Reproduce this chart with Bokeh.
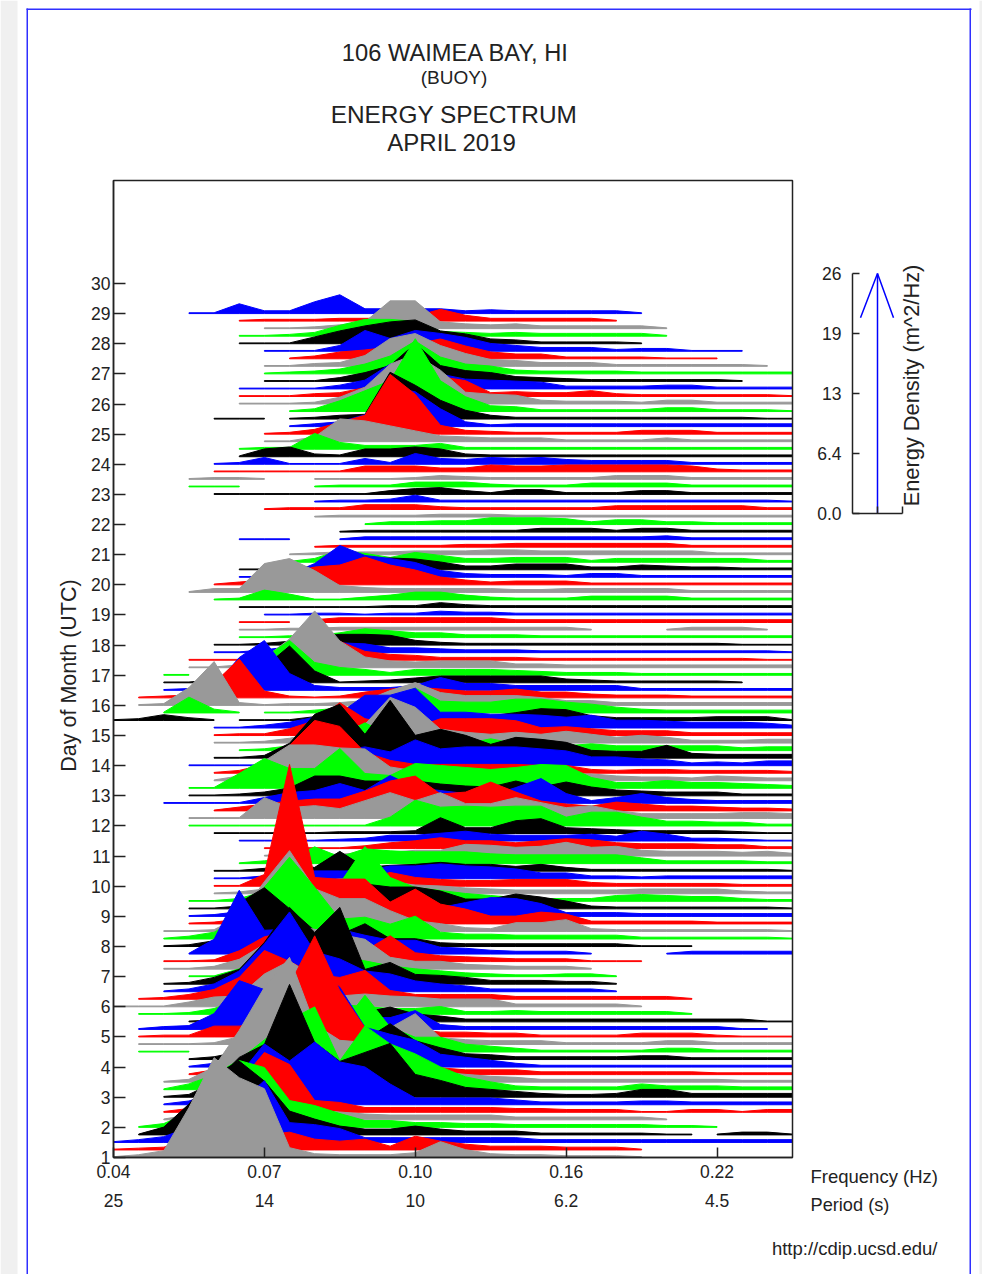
from bokeh.plotting import figure
from bokeh.core.properties import value
from bokeh.models import FixedTicker, LinearAxis, Range1d
from bokeh.embed import file_html
from bokeh.resources import INLINE
import math

_ = None  # no energy recorded in this frequency bin

# Waterfall spectra, one every 6 h from day 1 00:00; 28 frequency bins per spectrum.
# Readings are in divisions of the energy scale (240 divisions = 26 m^2/Hz).
k000=[1,3,7,50,100,80,69,10,4,3,3,3,5,16,8,4]+[3,3,2,2,2,1,_,_,_,_,_,_]
k001=[1,2,3,10,30,25,15,18,11,9,11,4,14,9,6,4]+[4,4,3,3,3,1,_,_,_,_,_,_]
k002=[1,3,6,15,30,40,62,20,18,14,5,5,5,5,5,5]+[5,3,3,3,3,3,3,3,3,3,3,3]
k003=[_,1,8,31,60,74,54,24,16,9,6,6,9,6,4,4]+[4,2,2,2,2,2,1,1,1,3,3,1]
k004=[_,1,4,15,40,67,60,27,22,14,7,7,5,5,4,4]+[3,3,3,3,3,3,2,2,1,_,_,_]
k005=[_,_,1,5,10,25,25,12,10,8,6,5,5,5,5,5]+[3,3,3,3,3,3,1,_,_,_,_,_]
k006=[_,_,1,4,10,30,60,48,12,10,5,5,5,5,5,5]+[4,4,3,3,3,1,1,3,3,1,3,3]
k007=[_,_,1,4,12,30,61,44,63,43,38,21,7,7,7,7]+[5,3,3,3,3,4,4,3,3,3,3,3]
k008=[_,_,1,3,15,40,53,113,55,36,45,54,23,17,10,8]+[6,4,3,3,4,8,8,4,4,4,4,4]
k009=[_,_,1,6,15,30,50,70,83,29,64,46,36,23,13,8]+[4,3,3,3,3,6,4,4,4,3,3,3]
k010=[_,_,1,3,15,52,95,125,58,42,40,25,15,10,8,6]+[5,3,3,3,3,3,3,3,3,2,2,2]
k011=[_,_,_,1,5,20,60,90,139,84,47,29,12,7,5,5]+[5,3,3,3,3,3,3,3,2,2,2,2]
k012=[_,_,_,1,4,8,25,60,100,80,40,33,27,13,10,7]+[4,2,2,2,2,2,2,2,2,2,2,2]
k013=[_,_,_,1,3,8,15,30,50,30,20,36,19,12,6,5]+[3,3,3,3,3,4,4,2,2,2,2,2]
k014=[_,1,1,1,_,3,20,25,30,25,57,25,15,15,8,6]+[4,2,2,2,2,2,4,4,2,2,2,2]
k015=[_,1,1,1,2,8,20,25,15,15,12,17,31,7,5,4]+[4,4,2,2,2,2,4,4,2,2,2,2]
k016=[_,1,2,2,11,11,15,30,20,15,10,10,8,5,5,4]+[4,2,2,2,2,4,4,4,2,1,1,1]
k017=[_,1,3,4,16,49,40,25,20,15,12,12,19,5,3,3]+[3,3,3,3,3,3,3,3,3,1,1,_]
k018=[_,_,_,1,2,5,10,15,15,12,10,15,8,6,3,3]+[3,3,3,3,3,3,3,3,3,3,1,1]
k019=[_,1,1,2,6,15,20,15,12,10,8,6,6,8,3,3]+[4,3,3,3,3,3,3,1,_,_,_,_]
k020=[1,1,1,5,10,11,33,46,30,11,13,11,10,8,8,8]+[3,3,3,3,3,1,_,_,_,_,_,_]
k021=[_,1,2,5,10,22,49,38,25,22,29,9,5,5,5,5]+[3,3,3,3,3,3,3,1,_,_,_,_]
k022=[_,_,1,3,8,21,48,80,40,33,21,18,11,8,6,3]+[3,3,3,3,1,_,_,_,_,_,_,_]
k023=[_,_,1,2,7,15,42,77,52,77,15,22,10,9,7,4]+[4,4,3,3,1,_,_,_,_,_,_,_]
k024=[_,_,_,1,1,8,25,40,30,20,16,11,8,6,4,3]+[2,2,3,3,1,_,_,_,_,_,_,_]
k025=[_,_,1,1,3,10,25,45,40,35,30,12,8,8,5,4]+[3,3,3,1,_,_,_,_,_,_,_,_]
k026=[_,_,1,1,2,11,25,30,25,15,11,26,9,6,5,4]+[3,3,3,1,1,1,_,_,_,_,_,_]
k027=[_,_,_,1,15,64,24,25,20,25,19,14,14,7,6,4]+[3,3,3,1,_,_,1,3,3,3,3,3]
k028=[_,_,1,2,6,44,59,38,16,12,23,8,8,4,3,3]+[3,3,3,3,3,1,1,1,_,_,_,_]
k029=[_,_,1,3,7,20,52,82,52,20,22,15,23,7,5,5]+[4,4,4,4,4,2,2,2,2,2,2,1]
k030=[_,_,1,1,2,15,50,81,43,33,33,21,11,8,4,3]+[9,9,12,3,2,2,2,2,2,2,2,1]
k031=[_,_,_,1,2,5,10,20,45,45,45,22,35,20,15,8]+[8,12,10,3,3,3,3,3,2,2,2,2]
k032=[_,_,_,1,2,5,10,25,30,35,31,14,16,9,14,19]+[18,13,4,4,4,3,3,3,3,3,3,3]
k033=[_,_,_,1,1,3,8,15,20,25,25,22,22,18,10,10]+[15,12,8,3,2,2,2,2,2,2,2,1]
k034=[_,_,_,1,1,3,10,15,10,18,55,24,14,11,8,6]+[4,3,3,3,6,7,6,5,5,3,2,2]
k035=[_,_,_,_,1,2,5,8,12,15,15,12,9,8,6,5]+[4,4,4,4,4,5,5,5,5,3,2,2]
k036=[_,_,_,_,1,1,12,122,9,7,7,14,9,7,6,6]+[7,7,7,4,3,3,3,3,3,2,2,2]
k037=[_,_,_,_,1,1,3,10,8,8,8,13,13,15,13,12]+[10,6,6,3,3,2,3,3,3,3,3,3]
k038=[_,_,_,_,1,1,3,5,4,20,4,6,7,9,7,7]+[5,7,4,2,2,2,2,2,2,2,2,1]
k039=[_,_,_,_,_,1,3,5,17,7,15,13,12,12,12,10]+[9,9,9,9,9,6,3,3,3,3,2,2]
k040=[_,_,_,_,_,_,1,2,2,2,4,4,6,6,12,11]+[9,10,14,9,10,6,5,5,5,4,5,3]
k041=[_,_,_,_,_,_,1,1,1,1,3,6,8,11,8,8]+[6,8,10,9,6,5,5,5,4,4,2,2]
k042=[_,_,_,_,_,1,1,1,1,2,3,6,6,8,10,7]+[6,6,6,7,5,10,7,3,3,2,1,1]
k043=[_,_,_,_,1,1,1,1,1,2,2,2,3,16,6,6]+[13,15,6,5,4,3,3,3,3,2,1,1]
k044=[_,_,_,1,1,1,1,1,1,1,1,9,26,19,20,19]+[20,20,9,14,14,9,5,5,4,4,2,2]
k045=[_,_,_,1,1,1,21,11,13,10,18,26,18,26,15,15]+[21,16,11,13,8,5,5,5,5,6,6,5]
k046=[_,_,_,_,1,4,7,10,12,12,20,30,35,17,19,29]+[19,10,7,5,9,7,5,5,4,3,3,2]
k047=[_,_,1,1,1,1,6,11,13,20,13,28,16,13,10,8]+[16,25,10,3,6,10,6,4,3,3,3,3]
k048=[_,_,_,1,1,2,4,8,20,20,15,15,15,12,10,9]+[15,9,14,9,6,5,4,4,4,2,2,2]
k049=[_,_,_,1,1,15,30,20,20,40,15,13,25,23,21,19]+[21,24,23,11,6,6,8,6,6,5,4,3]
k050=[_,_,_,_,1,5,20,36,36,33,32,14,10,8,8,8]+[9,8,7,7,5,4,4,3,5,4,3,3]
k051=[_,_,_,_,1,3,9,28,53,47,21,13,9,9,9,9]+[9,8,8,4,3,4,4,3,3,3,3,2]
k052=[_,_,_,1,1,1,1,5,10,15,19,14,26,17,19,19]+[19,17,15,9,9,7,6,3,4,3,5,5]
k053=[_,_,_,_,1,1,3,15,44,54,24,58,23,29,23,14]+[21,19,16,8,7,7,13,5,4,4,4,4]
k054=[_,_,_,_,_,1,2,5,12,15,28,15,10,7,7,12]+[7,6,5,7,5,5,5,5,5,3,4,4]
k055=[_,_,_,_,1,1,2,5,10,12,19,46,36,14,11,9]+[11,9,12,9,6,8,6,3,3,3,4,4]
k056=[_,_,_,_,1,2,2,7,15,33,17,12,8,17,17,17]+[15,8,9,7,5,5,5,3,3,3,3,3]
k057=[_,_,_,_,1,1,3,6,11,15,33,33,40,16,16,14]+[14,13,11,13,8,8,7,6,6,6,5,3]
k058=[1,2,6,3,1,1,1,1,4,4,4,4,4,4,4,5]+[8,12,11,5,3,3,3,3,4,4,4,1]
k059=[_,_,1,16,4,1,1,1,3,5,8,15,25,12,11,11]+[14,14,11,9,6,4,3,3,3,3,3,3]
k060=[_,1,2,18,44,3,1,2,2,3,5,15,23,13,10,10]+[10,8,5,5,3,3,3,3,3,3,3,3]
k061=[_,1,2,3,15,39,7,2,1,2,6,9,11,9,7,7]+[9,6,6,4,3,3,3,2,2,2,2,2]
k062=[_,_,1,2,4,33,50,17,5,3,3,3,5,13,7,7]+[5,5,5,5,5,2,2,2,2,2,2,2]
k063=[_,_,1,1,3,8,16,37,12,1,2,3,5,7,7,7]+[7,7,4,3,2,2,2,2,2,1,_,_]
k064=[_,_,1,1,_,3,18,35,13,8,6,3,6,6,6,6]+[5,4,3,3,3,2,2,2,2,2,2,2]
k065=[_,_,_,1,1,3,10,29,57,27,11,7,6,7,7,7]+[4,4,3,3,3,3,3,3,3,3,3,3]
k066=[_,_,_,1,1,1,3,6,12,19,9,6,5,3,3,3]+[3,2,2,2,2,2,2,2,2,2,1,1]
k067=[_,_,_,_,1,1,3,6,8,10,9,5,5,4,3,3]+[3,2,2,2,2,2,2,2,2,2,2,1]
k068=[_,_,_,_,1,1,2,4,8,11,11,10,5,3,2,2]+[2,2,2,2,2,2,2,2,2,1,1,1]
k069=[_,_,_,_,_,1,1,2,2,5,9,7,5,5,3,3]+[3,2,2,2,2,2,2,2,2,2,2,2]
k070=[_,_,_,_,_,1,1,2,2,3,3,3,3,3,3,3]+[3,3,3,1,_,_,1,3,3,3,1,_]
k071=[_,_,_,_,_,1,1,1,3,5,5,5,5,5,5,5]+[3,3,3,3,3,3,3,3,3,3,3,3]
k072=[_,_,_,_,_,_,1,1,2,2,1,2,2,4,3,3]+[2,2,2,2,2,2,2,2,2,2,2,2]
k073=[_,_,_,_,_,1,1,1,1,1,1,2,2,5,3,2]+[2,2,2,2,2,2,2,2,2,2,2,2]
k074=[_,_,_,_,1,2,10,6,1,1,3,5,8,8,5,3]+[2,2,2,4,4,4,4,2,2,2,2,2]
k075=[_,_,_,1,4,4,29,34,22,7,5,4,4,4,4,4]+[3,3,4,4,4,4,4,2,2,2,2,2]
k076=[_,_,_,_,1,3,5,12,18,20,28,20,15,8,5,3]+[4,4,4,2,2,2,2,2,2,2,2,2]
k077=[_,_,_,_,_,1,1,3,14,32,22,19,15,7,4,3]+[3,3,2,4,4,2,2,2,2,2,2,2]
k078=[_,_,_,_,_,1,1,2,4,8,10,12,11,8,4,4]+[6,6,6,3,3,5,4,3,3,2,2,2]
k079=[_,_,_,_,_,_,_,1,4,12,9,5,10,7,4,4]+[5,5,5,2,4,4,4,4,4,4,2,2]
k080=[_,_,_,_,_,_,_,1,2,3,3,3,4,4,4,5]+[5,4,4,4,4,4,4,4,2,2,2,2]
k081=[_,_,_,_,_,_,_,_,1,2,2,2,2,2,3,3]+[4,4,4,4,4,4,4,2,2,2,2,2]
k082=[_,_,_,_,_,1,1,1,_,1,3,3,3,3,3,3]+[3,3,3,3,3,3,4,2,2,2,2,2]
k083=[_,_,_,_,_,_,_,_,_,1,2,2,2,2,2,2]+[2,4,4,4,2,4,4,2,2,2,2,2]
k084=[_,_,_,_,_,_,_,_,_,_,1,3,3,4,4,7]+[7,7,6,3,5,5,3,3,2,2,2,2]
k085=[_,_,_,_,_,_,_,_,1,2,2,2,2,3,3,3]+[2,2,2,2,2,2,2,2,2,2,2,2]
k086=[_,_,_,_,_,_,1,2,2,2,5,5,5,3,2,2]+[2,2,2,2,4,4,4,4,4,4,2,2]
k087=[_,_,_,_,_,_,_,_,1,2,2,3,7,2,2,2]+[2,2,2,2,2,2,2,2,2,2,2,1]
k088=[_,_,_,_,1,1,1,1,1,1,1,4,6,7,4,2]+[5,5,2,2,2,4,4,2,2,2,2,2]
k089=[_,_,_,1,1,1,_,_,1,2,2,2,5,5,5,3]+[2,2,2,4,4,4,4,2,2,2,2,2]
k090=[_,_,_,1,2,2,1,_,1,1,1,1,2,4,3,2]+[2,2,2,2,4,4,4,2,2,2,2,2]
k091=[_,_,_,_,1,1,1,1,1,1,6,6,6,4,4,7]+[6,6,7,7,7,7,7,6,3,2,2,2]
k092=[_,_,_,_,1,2,7,1,1,1,6,2,11,6,5,7]+[6,7,5,4,4,4,4,2,2,2,2,2]
k093=[_,_,_,_,_,1,8,10,3,2,8,8,10,8,3,2]+[2,2,2,2,2,2,2,2,2,2,2,2]
k094=[_,_,_,_,_,1,2,2,16,7,4,4,4,6,2,2]+[2,2,2,2,2,2,2,2,2,2,2,2]
k095=[_,_,_,_,_,_,1,1,5,23,21,16,11,6,5,4]+[4,4,2,2,2,2,4,2,2,2,2,2]
k096=[_,_,_,_,_,_,1,2,5,12,19,60,40,9,4,3]+[2,2,2,2,2,4,4,4,2,2,2,2]
k097=[_,_,_,_,_,_,_,1,3,5,12,40,35,18,5,2]+[3,3,3,3,3,3,3,3,3,3,3,3]
k098=[_,_,_,_,1,1,1,1,2,4,5,47,34,19,9,4]+[2,2,2,2,2,2,2,2,2,2,1,1]
k099=[_,_,_,_,_,_,_,1,3,11,21,31,73,31,15,6]+[5,2,2,2,2,2,4,4,2,2,2,1]
k100=[_,_,_,_,_,1,1,1,2,7,17,40,50,34,12,10]+[9,4,3,3,3,2,4,4,2,2,2,2]
k101=[_,_,_,_,_,1,1,1,3,4,9,20,25,20,16,4]+[5,4,4,6,3,2,2,2,2,2,2,1]
k102=[_,_,_,_,_,1,1,1,1,4,9,25,30,15,10,9]+[8,7,3,3,3,3,4,4,2,2,2,2]
k103=[_,_,_,_,_,_,1,1,1,4,9,16,38,16,11,9]+[5,4,3,2,2,2,2,2,2,1,_,_]
k104=[_,_,_,_,_,_,1,2,3,5,10,18,33,17,10,8]+[4,3,3,3,3,2,2,2,2,2,2,2]
k105=[_,_,_,_,_,_,1,1,3,4,11,28,33,21,13,7]+[6,4,4,4,2,2,2,2,2,2,1,_]
k106=[_,_,_,_,_,_,_,1,3,7,9,12,15,20,13,7]+[5,5,2,2,2,2,1,1,1,_,_,_]
k107=[_,_,_,_,_,_,1,1,1,6,21,13,21,18,14,8]+[6,4,4,4,2,3,3,1,1,1,_,_]
k108=[_,_,_,_,_,1,1,1,7,13,18,22,24,13,10,5]+[4,2,2,2,2,1,_,_,_,_,_,_]
k109=[_,_,_,_,_,1,1,2,4,11,17,17,15,5,4,3]+[4,3,3,3,3,3,1,_,_,_,_,_]
k110=[_,_,_,_,_,_,1,1,2,4,7,28,28,7,5,4]+[5,3,3,3,3,3,1,_,_,_,_,_]
k111=[_,_,_,_,_,1,2,2,2,3,3,3,5,12,6,3]+[3,3,3,3,1,_,_,_,_,_,_,_]
k112=[_,_,_,1,1,10,3,3,12,19,5,5,5,5,3,4]+[3,3,3,3,3,1,_,_,_,_,_,_]
spectra = [globals()[f"k{i:03d}"] for i in range(113)]
# spectrum -> bins after which the trace is broken
gaps = {3: [23], 58: [4], 59: [5], 71: [7], 98: [6]}

series_colors = ["#999999", "#ff0000", "#0000ff", "#000000", "#00ff00"]
day_ticks = list(range(1, 31))
freq_ticks = [0, 6, 12, 18, 24]
freq_labels = ["0.04", "0.07", "0.10", "0.16", "0.22"]
period_labels = ["25", "14", "10", "6.2", "4.5"]
energy_ticks = [0, 6.5, 13, 19.5, 26]
energy_labels = ["0.0", "6.4", "13", "19", "26"]
arrow_shaft = [0, 26]
arrow_head = [21.2, 26, 21.2]

W, H = 982, 1274
INK = "#222222"
FONT = "Liberation Sans"
FS = "17.5px"
DIV_PER_DAY = 30.14
PX_PER_BIN = 679 / 27
DAY_TOP = 1 + 977 / DIV_PER_DAY

xs, ys, cols = [], [], []
for k in range(112, -1, -1):
    vals = (spectra[k] + [None] * 28)[:28]
    base = 1 + k / 4
    seg, runs = [], []
    for i, v in enumerate(vals):
        if v is None:
            if seg:
                runs.append(seg)
            seg = []
            continue
        seg.append((i, v))
        if i in gaps.get(k, []):
            runs.append(seg)
            seg = []
    if seg:
        runs.append(seg)
    for run in runs:
        if len(run) < 2:
            continue
        ix = [r[0] for r in run]
        top = [base + max(r[1] - 0.2, 0) / DIV_PER_DAY for r in run]
        xs.append(ix + ix[::-1])
        ys.append(top + [base] * len(ix))
        cols.append(series_colors[k % 5])

# The frame fills the page; page pixels are the default scale.
p = figure(width=W, height=H, output_backend="svg", toolbar_location=None,
           x_range=Range1d(0, W), y_range=Range1d(H, 0),
           min_border_left=0, min_border_right=0, min_border_top=0, min_border_bottom=0,
           border_fill_color="white", background_fill_color="white", outline_line_color=None,
           x_axis_type=None, y_axis_type=None)
p.grid.visible = False
p.extra_x_ranges["bin"] = Range1d(-113 / PX_PER_BIN, (W - 113) / PX_PER_BIN)
p.extra_y_ranges["day"] = Range1d(1 - (H - 1157) / DIV_PER_DAY, 1 + 1157 / DIV_PER_DAY)
p.extra_x_ranges["scale"] = Range1d(-852, W - 852)
p.extra_y_ranges["energy"] = Range1d((513 - H) * 26 / 240, 513 * 26 / 240)

# page frame
p.quad(left=[0, 979], right=[17, W], top=[0, 0], bottom=[H, H], fill_color="#f0f0f0", line_color=None)
p.quad(left=[26, 26, 969], right=[971, 27.5, 970.5], top=[8, 8, 8], bottom=[9.5, H, H],
       fill_color="#3030ff", line_color=None)

p.patches(xs, ys, fill_color=cols, line_color=cols, line_width=1,
          x_range_name="bin", y_range_name="day")
p.line([0, 0, 27, 27, 0], [1, DAY_TOP, DAY_TOP, 1, 1], line_color=INK, line_width=1.5,
       x_range_name="bin", y_range_name="day")


def style(a, tick_in, standoff, line=True):
    a.major_tick_in, a.major_tick_out = tick_in, 0
    a.minor_tick_line_color = None
    a.axis_line_color = INK if line else None
    a.axis_line_width = 1.5
    a.major_tick_line_color = INK if line else None
    a.major_tick_line_width = 1.5
    a.major_label_text_font = FONT
    a.major_label_text_font_size = FS
    a.major_label_text_color = INK
    a.major_label_standoff = standoff


ax = LinearAxis(ticker=FixedTicker(ticks=freq_ticks), x_range_name="bin", y_range_name="day",
                fixed_location=1, bounds=(0, 27),
                major_label_overrides=dict(zip(freq_ticks, freq_labels)))
style(ax, 10, 7)
p.add_layout(ax, "below")

ax2 = LinearAxis(ticker=FixedTicker(ticks=freq_ticks), x_range_name="bin", y_range_name="day",
                 fixed_location=1, bounds=(0, 27),
                 major_label_overrides=dict(zip(freq_ticks, period_labels)))
style(ax2, 0, 36, line=False)
p.add_layout(ax2, "below")

ay = LinearAxis(ticker=FixedTicker(ticks=day_ticks), x_range_name="bin", y_range_name="day",
                fixed_location=0, bounds=(1, DAY_TOP),
                major_label_overrides={d: str(d) for d in day_ticks})
style(ay, 12, 3)
p.add_layout(ay, "left")

ey = LinearAxis(ticker=FixedTicker(ticks=energy_ticks), x_range_name="scale", y_range_name="energy",
                fixed_location=0, bounds=(0, 26),
                major_label_overrides=dict(zip(energy_ticks, energy_labels)))
style(ey, 7, 11)
p.add_layout(ey, "left")

ex = LinearAxis(ticker=FixedTicker(ticks=[25, 50]), x_range_name="scale", y_range_name="energy",
                fixed_location=0, bounds=(0, 50), major_label_overrides={25: "", 50: ""})
style(ex, 7, 5)
p.add_layout(ex, "below")

p.line([25, 25], arrow_shaft, line_color="#0000ff", line_width=1.5,
       x_range_name="scale", y_range_name="energy")
p.line([8, 25, 41], arrow_head, line_color="#0000ff", line_width=1.5,
       x_range_name="scale", y_range_name="energy")


def txt(text, x, y, size, align="center", angle=0.0):
    p.text([x], [y], text=[text], text_align=align, text_baseline="middle", angle=angle,
           text_font=value(FONT), text_font_size=value(size), text_color=INK)


txt("106 WAIMEA BAY, HI", 455, 52, "23.7px")
txt("(BUOY)", 453.5, 77, "19px")
txt("ENERGY SPECTRUM", 453.5, 113.5, "24.4px")
txt("APRIL 2019", 451.5, 142, "24px")
txt("Day of Month (UTC)", 68, 675, "21.5px", angle=math.pi / 2)
txt("Energy Density (m^2/Hz)", 911, 385, "21.8px", angle=math.pi / 2)
txt("Frequency (Hz)", 810, 1176, "18.5px", align="left")
txt("Period (s)", 810, 1204, "18.2px", align="left")
txt("http://cdip.ucsd.edu/", 937, 1248, "18.5px", align="right")

open("out.html", "w").write(file_html(p, INLINE))
